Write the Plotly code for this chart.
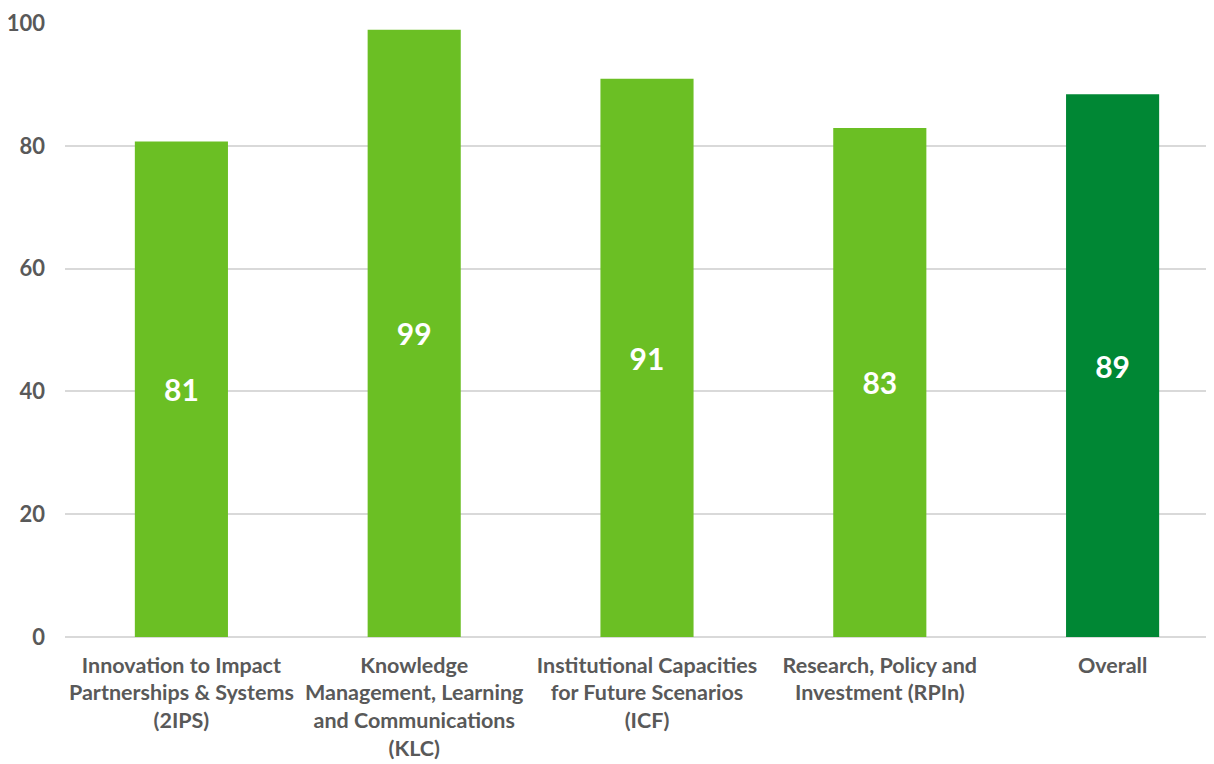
import plotly.graph_objects as go

# category labels, values and the labels drawn on the bars
categories = [
    "Innovation to Impact<br>Partnerships & Systems<br>(2IPS)",
    "Knowledge<br>Management, Learning<br>and Communications<br>(KLC)",
    "Institutional Capacities<br>for Future Scenarios<br>(ICF)",
    "Research, Policy and<br>Investment (RPIn)",
    "Overall",
]
scores = [80.7, 98.9, 90.9, 82.9, 88.4]
score_labels = ["81", "99", "91", "83", "89"]
bar_colors = ["#6BBF24", "#6BBF24", "#6BBF24", "#6BBF24", "#008734"]

fig = go.Figure()
fig.add_trace(
    go.Bar(
        x=categories,
        y=scores,
        text=score_labels,
        textposition="inside",
        insidetextanchor="middle",
        textfont=dict(family="Lato", size=30, color="white", weight="bold"),
        marker=dict(color=bar_colors, line=dict(width=0)),
        hoverinfo="skip",
    )
)

# page body adds an 8px offset, so margins are trimmed to match
fig.update_layout(
    width=1221,
    height=764,
    margin=dict(l=57, r=0, t=15, b=135),
    paper_bgcolor="white",
    plot_bgcolor="white",
    bargap=0.6,
    showlegend=False,
    font=dict(family="Lato", color="#595959"),
    xaxis=dict(
        tickfont=dict(family="Lato", size=21.5, color="#595959", weight="bold"),
        showline=False,
        showgrid=False,
        ticks="",
        ticklabelstandoff=13,
        automargin=False,
    ),
    yaxis=dict(
        range=[0, 100],
        dtick=20,
        showgrid=True,
        gridcolor="#D9D9D9",
        gridwidth=1.5,
        zeroline=True,
        zerolinecolor="#D9D9D9",
        zerolinewidth=1.5,
        showline=False,
        ticks="",
        tickfont=dict(family="Lato", size=22, color="#595959", weight="bold"),
        ticklabelstandoff=19,
        automargin=False,
    ),
)

fig.write_html("out.html")
